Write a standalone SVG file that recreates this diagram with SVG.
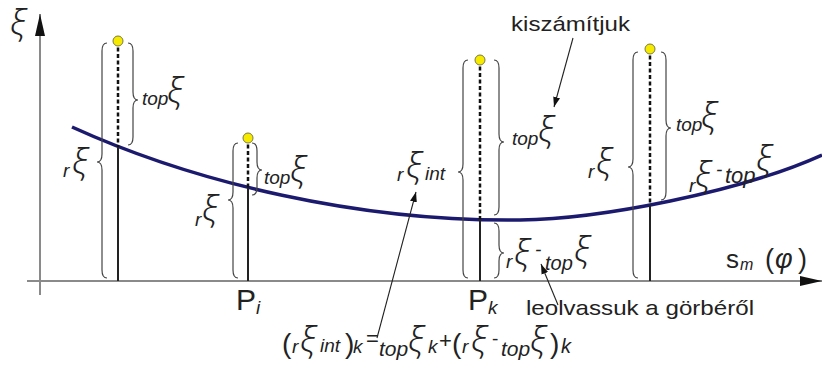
<svg xmlns="http://www.w3.org/2000/svg" width="822" height="369" viewBox="0 0 822 369">
<style>
.ax{stroke:#8a8a8a;stroke-width:2;fill:none}
.sol{stroke:#222;stroke-width:2;fill:none}
.dsh{stroke:#111;stroke-width:2.5;stroke-dasharray:4 2.5;fill:none}
.br{stroke:#444;stroke-width:1.2;fill:none}
.dot{fill:#f5ea00;stroke:#7a7a40;stroke-width:1}
.cur{stroke:#1c1a6e;stroke-width:3.5;fill:none}
.ar{stroke:#222;stroke-width:1.1;fill:none}
.t{font-family:"Liberation Sans",Arial,sans-serif;fill:#222}
.i{font-family:"Liberation Sans",Arial,sans-serif;font-style:italic;fill:#222}
.x{font-family:"Noto Sans","Liberation Sans",sans-serif;font-style:italic;font-weight:300;font-size:34px;fill:#222}
.s{font-size:19px}
</style>
<defs>
<marker id="ah" viewBox="0 0 10 10" refX="10" refY="5" markerWidth="10" markerHeight="10" markerUnits="userSpaceOnUse" orient="auto"><path d="M0,1.5 L10,5 L0,8.5 Z" fill="#111"/></marker>
<marker id="axh" viewBox="0 0 22 10" refX="22" refY="5" markerWidth="22" markerHeight="10" markerUnits="userSpaceOnUse" orient="auto"><path d="M0,0 L22,5 L0,10 Z" fill="#111"/></marker>
</defs>
<g id="axes">
<line class="ax" x1="40" y1="295" x2="40" y2="14" marker-end="url(#axh)"/>
<line class="ax" x1="27" y1="281" x2="822" y2="281" marker-end="url(#axh)"/>
<text class="x" x="10" y="35" font-size="26">ξ</text>
<text class="t" x="726" y="268" font-size="26">s</text><text class="i" x="740" y="270" font-size="16">m</text>
<text class="t" x="765" y="268" font-size="27">(</text><text class="i" x="775" y="268" font-size="27">φ</text><text class="t" x="798" y="268" font-size="27">)</text>
</g>
<g id="curve"><path class="cur" d="M72,127 C195,183 360,222 520,220 C600,219 740,192 822,155"/></g>
<g id="node1">
<line class="dsh" x1="118" y1="41" x2="118" y2="147"/>
<line class="sol" x1="118" y1="147" x2="118" y2="281"/>
<circle class="dot" cx="118" cy="41" r="5"/>
<path class="br" d="M107,43 Q102,43 102,51 L102,154 Q102,162 97,162 Q102,162 102,170 L102,270 Q102,278 107,278"/>
<path class="br" d="M128,43 Q133,43 133,51 L133,92 Q133,100 138,100 Q133,100 133,108 L133,137 Q133,145 128,145"/>
<text class="i s" x="63" y="177">r</text><text class="x" x="72" y="174">ξ</text>
<text class="i s" x="142" y="105">top</text><text class="x" x="167" y="103">ξ</text>
</g>
<g id="node2">
<line class="dsh" x1="248" y1="138" x2="248" y2="188"/>
<line class="sol" x1="248" y1="188" x2="248" y2="281"/>
<circle class="dot" cx="248" cy="138" r="5"/>
<path class="br" d="M238,143 Q233,143 233,151 L233,192 Q233,200 228,200 Q233,200 233,208 L233,270 Q233,278 238,278"/>
<path class="br" d="M252,143 Q257,143 257,151 L257,162 Q257,170 262,170 Q257,170 257,178 L257,187 Q257,195 252,195"/>
<text class="i s" x="195" y="226">r</text><text class="x" x="202" y="221">ξ</text>
<text class="i s" x="264" y="184">top</text><text class="x" x="290" y="182">ξ</text>
<text class="t" x="236" y="310" font-size="30">P</text><text class="i s" x="256" y="314">i</text>
</g>
<g id="node3">
<line class="dsh" x1="480" y1="60" x2="480" y2="219"/>
<line class="sol" x1="480" y1="219" x2="480" y2="281"/>
<circle class="dot" cx="480" cy="60" r="5"/>
<path class="br" d="M468,60 Q463,60 463,68 L463,164 Q463,172 458,172 Q463,172 463,180 L463,270 Q463,278 468,278"/>
<path class="br" d="M494,60 Q499,60 499,68 L499,134 Q499,142 504,142 Q499,142 499,150 L499,207 Q499,215 494,215"/>
<path class="br" d="M494,223 Q499,223 499,231 L499,245 Q499,253 504,253 Q499,253 499,261 L499,270 Q499,278 494,278"/>
<text class="i s" x="397" y="181">r</text><text class="x" x="406" y="178">ξ</text><text class="i s" x="425" y="180">int</text>
<text class="i s" x="512" y="145">top</text><text class="x" x="538" y="142">ξ</text>
<text class="i s" x="506" y="268">r</text><text class="x" x="514" y="265">ξ</text><text class="i s" x="535" y="256">-</text><text class="i" font-size="20" x="545" y="270">top</text><text class="x" x="574" y="262">ξ</text>
<text class="t" x="468" y="310" font-size="30">P</text><text class="i s" x="488" y="314">k</text>
</g>
<g id="node4">
<line class="dsh" x1="650" y1="49" x2="650" y2="205"/>
<line class="sol" x1="650" y1="205" x2="650" y2="281"/>
<circle class="dot" cx="650" cy="49" r="5"/>
<path class="br" d="M638,52 Q633,52 633,60 L633,159 Q633,167 628,167 Q633,167 633,175 L633,270 Q633,278 638,278"/>
<path class="br" d="M661,52 Q666,52 666,60 L666,120 Q666,128 671,128 Q666,128 666,136 L666,192 Q666,200 661,200"/>
<text class="i s" x="588" y="178">r</text><text class="x" x="596" y="174">ξ</text>
<text class="i s" x="676" y="131">top</text><text class="x" x="701" y="128">ξ</text>
<text class="i s" x="689" y="192">r</text><text class="x" x="695" y="187">ξ</text><text class="i s" x="716" y="176">-</text><text class="i" font-size="22" x="725" y="183">top</text><text class="x" x="756" y="171">ξ</text>
</g>
<g id="notes">
<text class="t" x="511" y="31" font-size="21" textLength="119" lengthAdjust="spacingAndGlyphs">kiszámítjuk</text>
<text class="t" x="526" y="315" font-size="21" textLength="228" lengthAdjust="spacingAndGlyphs">leolvassuk a görbéről</text>
<text class="t" x="282" y="353" font-size="28">(</text>
<text class="i s" x="292" y="353">r</text>
<text class="x" x="300" y="352" font-size="35">ξ</text>
<text class="i s" x="320" y="352">int</text>
<text class="t" x="345" y="353" font-size="28">)</text>
<text class="i s" x="353" y="353">k</text>
<text class="t" x="366" y="346" font-size="22">=</text>
<text class="i" x="379" y="356" font-size="21">top</text>
<text class="x" x="408" y="352" font-size="35">ξ</text>
<text class="i s" x="428" y="353">k</text>
<text class="t" x="439" y="348" font-size="22">+</text>
<text class="t" x="452" y="353" font-size="28">(</text>
<text class="i s" x="462" y="353">r</text>
<text class="x" x="471" y="352" font-size="35">ξ</text>
<text class="t" x="492" y="345" font-size="19">-</text>
<text class="i" x="501" y="356" font-size="21">top</text>
<text class="x" x="530" y="352" font-size="35">ξ</text>
<text class="t" x="550" y="353" font-size="28">)</text>
<text class="i" x="561" y="353" font-size="20">k</text>
</g>
<g id="connectors">
<line class="ar" x1="573" y1="38" x2="554" y2="107" marker-end="url(#ah)"/>
<line class="ar" x1="558" y1="305" x2="541" y2="264" marker-end="url(#ah)"/>
<line class="ar" x1="377" y1="338" x2="416" y2="192" marker-end="url(#ah)"/>
</g>
</svg>
